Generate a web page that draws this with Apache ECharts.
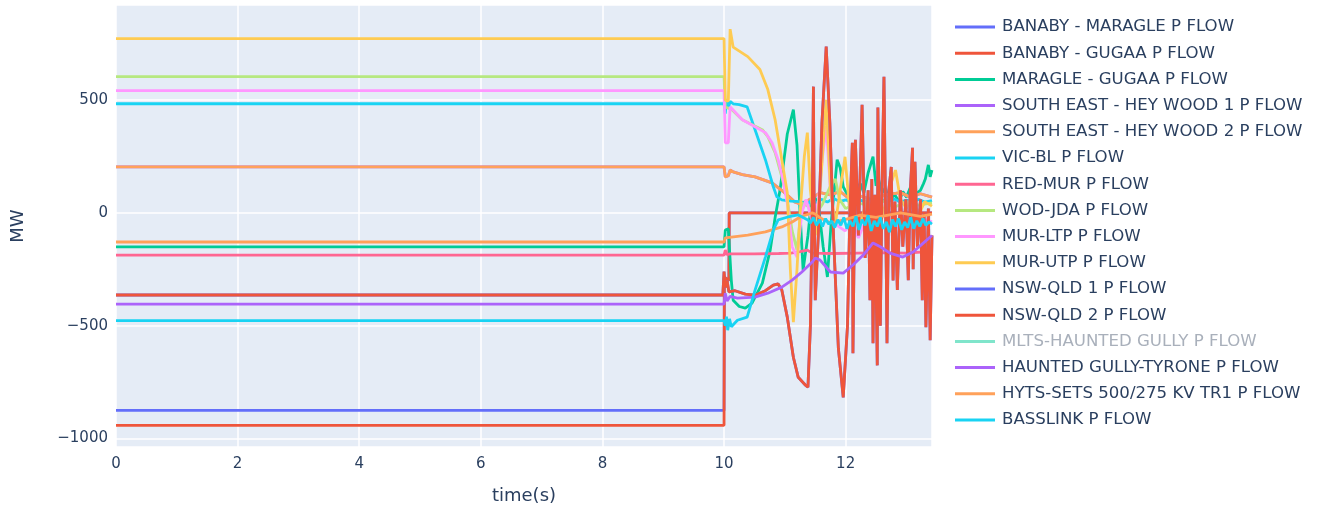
<!DOCTYPE html>
<html>
<head>
<meta charset="utf-8">
<script src="https://cdn.jsdelivr.net/npm/echarts@6/dist/echarts.min.js"></script>
<style>
  html, body { margin: 0; padding: 0; background: #ffffff; }
  #chart { width: 1322px; height: 511px; }
</style>
</head>
<body>
<div id="chart"></div>
<script>
// Active power flows [time (s), MW] for each monitored branch
const banabyMaragle = [[0,-876],[10,-876],[10.005,-285],[10.08,-300],[10.085,0],[13.42,0]];
const banabyGugaa = [[0,-942],[10,-942],[10.005,-285],[10.08,-300],[10.085,0],[13.42,0]];
const maragleGugaa = [[0,-151],[10,-151],[10.02,-76],[10.07,-71],[10.12,-300],[10.15,-387],[10.25,-415],[10.35,-422],[10.46,-400],[10.63,-311],[10.76,-164],[10.84,-20],[10.92,100],[11.04,350],[11.14,458],[11.2,300],[11.25,0],[11.3,-253],[11.38,-100],[11.45,90],[11.55,40],[11.63,-150],[11.7,-284],[11.76,-50],[11.86,236],[11.91,200],[11.96,116],[12.07,60],[12.16,100],[12.24,130],[12.3,90],[12.37,178],[12.45,249],[12.5,120],[12.53,160],[12.6,90],[12.65,110],[12.72,60],[12.81,80],[12.88,50],[12.94,95],[13.0,70],[13.06,110],[13.12,65],[13.18,90],[13.23,100],[13.28,130],[13.31,150],[13.36,213],[13.39,160],[13.42,190]];
// South East - Heywood circuits 1 and 2 run in parallel and carry the same flow
const southEastHeywood = [[0,204],[10,204],[10.02,160],[10.07,165],[10.1,190],[10.15,182],[10.3,170],[10.51,160],[10.79,133],[11.0,89],[11.16,49],[11.25,40],[11.38,55],[11.47,70],[11.58,90],[11.75,80],[11.91,95],[12.07,60],[12.24,75],[12.45,58],[12.65,80],[12.9,90],[13.06,70],[13.23,85],[13.42,70]];
const vicBl = [[0,484],[10,484],[10.02,440],[10.04,505],[10.07,465],[10.1,495],[10.15,484],[10.25,480],[10.38,470],[10.51,369],[10.68,236],[10.81,116],[10.87,71],[10.95,58],[11.1,52],[11.25,50],[11.38,40],[11.45,62],[11.52,45],[11.6,60],[11.7,48],[11.8,65],[11.9,50],[12.0,58],[12.1,45],[12.2,62],[12.3,50],[12.4,60],[12.5,46],[12.6,58],[12.7,50],[12.8,62],[12.9,48],[13.0,57],[13.1,50],[13.2,60],[13.3,48],[13.42,55]];
const redMur = [[0,-187],[10,-187],[10.02,-165],[10.05,-185],[10.1,-182],[10.5,-182],[10.9,-180],[11.1,-178],[11.25,-172],[11.37,-165],[11.45,-178],[11.8,-180],[12.2,-178],[12.6,-176],[13.0,-178],[13.42,-170]];
const wodJda = [[0,604],[10,604],[10.02,470],[10.13,458],[10.3,413],[10.63,369],[10.72,338],[10.84,267],[10.95,160],[11.04,58],[11.12,-80],[11.2,-164],[11.28,44],[11.38,30],[11.5,-10],[11.62,40],[11.75,120],[11.83,150],[11.9,60],[12.0,20],[12.2,45],[12.4,30],[12.6,55],[12.8,25],[13.0,50],[13.2,35],[13.42,45]];
const murLtp = [[0,542],[10,542],[10.02,311],[10.07,311],[10.1,471],[10.3,413],[10.51,382],[10.68,356],[10.79,311],[10.89,236],[10.97,147],[11.05,27],[11.12,-150],[11.2,-196],[11.28,0],[11.35,60],[11.45,-40],[11.55,50],[11.62,250],[11.68,385],[11.75,100],[11.83,-50],[11.99,-80],[12.1,-40],[12.21,-111],[12.3,-50],[12.4,-60],[12.5,-20],[12.6,-70],[12.7,-30],[12.8,-80],[12.9,-40],[13.0,-60],[13.1,-25],[13.2,-55],[13.3,-30],[13.42,-40]];
const murUtp = [[0,773],[10,773],[10.02,500],[10.07,495],[10.1,815],[10.15,735],[10.39,693],[10.59,636],[10.72,547],[10.84,413],[10.95,236],[11.04,89],[11.09,-250],[11.14,-484],[11.2,-250],[11.25,0],[11.32,250],[11.37,356],[11.42,100],[11.5,-100],[11.58,100],[11.68,502],[11.75,100],[11.83,-50],[11.92,120],[11.99,249],[12.07,0],[12.15,30],[12.25,-40],[12.35,60],[12.45,20],[12.55,80],[12.65,-20],[12.75,133],[12.82,190],[12.9,60],[13.0,20],[13.1,80],[13.2,-10],[13.3,50],[13.42,30]];
// NSW-QLD circuits 1 and 2 run in parallel and carry the same flow
const nswQld = [[0,-364],[9.98,-364],[10.0,-260],[10.02,-330],[10.05,-300],[10.08,-350],[10.18,-345],[10.35,-360],[10.51,-365],[10.68,-345],[10.81,-320],[10.89,-315],[10.95,-342],[11.04,-462],[11.14,-640],[11.22,-729],[11.34,-764],[11.38,-773],[11.42,-500],[11.45,0],[11.47,560],[11.48,100],[11.5,-387],[11.55,-100],[11.61,400],[11.68,738],[11.74,400],[11.8,-100],[11.88,-600],[11.96,-818],[12.03,-500],[12.07,0],[12.11,311],[12.12,-622],[12.16,324],[12.21,-100],[12.27,480],[12.32,-200],[12.37,100],[12.4,-387],[12.43,150],[12.45,-578],[12.48,80],[12.52,-676],[12.53,467],[12.57,-500],[12.6,150],[12.63,604],[12.67,-300],[12.68,-578],[12.71,100],[12.75,204],[12.78,-300],[12.81,50],[12.85,-342],[12.9,100],[12.94,-150],[12.99,60],[13.03,-298],[13.06,80],[13.1,289],[13.11,-250],[13.14,227],[13.18,-150],[13.23,60],[13.26,-387],[13.29,0],[13.32,-507],[13.36,20],[13.39,-564],[13.42,-100]];
// MLTS - Haunted Gully and Haunted Gully - Tyrone are in series on the same path
const hauntedGully = [[0,-404],[10,-404],[10.02,-356],[10.05,-390],[10.1,-370],[10.22,-378],[10.51,-373],[10.72,-356],[10.95,-329],[11.12,-298],[11.28,-262],[11.45,-218],[11.5,-200],[11.58,-209],[11.75,-262],[11.96,-267],[12.12,-231],[12.29,-187],[12.45,-133],[12.57,-150],[12.73,-178],[12.94,-196],[13.11,-173],[13.28,-133],[13.42,-100]];
const hytsSets = [[0,-129],[10,-129],[10.02,-111],[10.39,-98],[10.68,-84],[10.95,-62],[11.12,-40],[11.25,-18],[11.45,0],[11.5,-5],[11.6,-25],[11.75,-44],[11.99,-30],[12.24,-10],[12.5,-20],[12.9,0],[13.23,-15],[13.42,-5]];
const basslink = [[0,-478],[10,-478],[10.02,-500],[10.04,-460],[10.06,-520],[10.09,-470],[10.12,-505],[10.22,-476],[10.38,-462],[10.51,-342],[10.68,-196],[10.81,-76],[10.89,-31],[11.05,-18],[11.22,-9],[11.38,-31],[11.42,-45],[11.47,-20],[11.52,-55],[11.57,-30],[11.62,-60],[11.67,-25],[11.72,-50],[11.77,-35],[11.82,-65],[11.87,-30],[11.92,-55],[11.97,-20],[12.02,-70],[12.07,-35],[12.12,-60],[12.17,-15],[12.22,-75],[12.27,-30],[12.32,-55],[12.37,-10],[12.42,-80],[12.47,-35],[12.52,-60],[12.57,-20],[12.62,-70],[12.67,-40],[12.72,-85],[12.77,-30],[12.82,-60],[12.87,-25],[12.92,-75],[12.97,-40],[13.02,-65],[13.07,-20],[13.12,-70],[13.17,-35],[13.22,-60],[13.27,-25],[13.32,-55],[13.37,-40],[13.42,-50]];

const seriesNames = [
  'BANABY - MARAGLE P FLOW', 'BANABY - GUGAA P FLOW', 'MARAGLE - GUGAA P FLOW',
  'SOUTH EAST - HEY WOOD 1 P FLOW', 'SOUTH EAST - HEY WOOD 2 P FLOW', 'VIC-BL P FLOW',
  'RED-MUR P FLOW', 'WOD-JDA P FLOW', 'MUR-LTP P FLOW', 'MUR-UTP P FLOW',
  'NSW-QLD 1 P FLOW', 'NSW-QLD 2 P FLOW', 'MLTS-HAUNTED GULLY P FLOW',
  'HAUNTED GULLY-TYRONE P FLOW', 'HYTS-SETS 500/275 KV TR1 P FLOW', 'BASSLINK P FLOW'
];
const seriesData = [
  banabyMaragle, banabyGugaa, maragleGugaa, southEastHeywood, southEastHeywood, vicBl,
  redMur, wodJda, murLtp, murUtp, nswQld, nswQld, hauntedGully, hauntedGully, hytsSets, basslink
];
const palette = ['#636efa','#EF553B','#00cc96','#ab63fa','#FFA15A','#19d3f3','#FF6692','#B6E880','#FF97FF','#FECB52'];
const hiddenSeries = 'MLTS-HAUNTED GULLY P FLOW';

const xTicks = { min: 0, max: 13.42, interval: 2 };
const yRange = { min: -1038, max: 922 };

const FONT = 'DejaVu Sans';
const INK = '#2a3f5f';
const minus = v => String(v).replace('-', '\u2212');

const chart = echarts.init(document.getElementById('chart'), null, { renderer: 'canvas' });

const series = seriesNames.map((name, i) => ({
  name,
  type: 'line',
  data: seriesData[i],
  showSymbol: false,
  symbol: 'none',
  lineStyle: { width: 2.8, color: palette[i % palette.length] },
  itemStyle: { color: palette[i % palette.length] },
  emphasis: { disabled: true },
  animation: false
}));

chart.setOption({
  animation: false,
  backgroundColor: '#ffffff',
  color: palette,
  grid: {
    left: 116, right: 390, top: 5, bottom: 64,
    show: true, backgroundColor: '#E5ECF6', borderWidth: 0
  },
  legend: {
    orient: 'vertical',
    left: 955, top: 17,
    padding: 0,
    icon: 'rect',
    itemWidth: 40, itemHeight: 3,
    itemGap: 6.2,
    selectedMode: true,
    selected: { [hiddenSeries]: false },
    data: seriesNames.map(name => name === hiddenSeries
      ? { name, inactiveColor: '#80e5cb' }
      : { name }),
    formatter: name => name === hiddenSeries ? '{off|' + name + '}' : name,
    textStyle: {
      fontFamily: FONT, fontSize: 16.6, color: INK, lineHeight: 20,
      padding: [0, 0, 0, 2],
      rich: { off: { fontFamily: FONT, fontSize: 16.6, color: '#a9b0bb', lineHeight: 20 } }
    }
  },
  xAxis: {
    type: 'value',
    min: xTicks.min, max: xTicks.max, interval: xTicks.interval,
    name: 'time(s)', nameLocation: 'middle', nameGap: 40,
    nameTextStyle: { fontFamily: FONT, fontSize: 18, color: INK },
    axisLine: { show: false }, axisTick: { show: false },
    axisLabel: { fontFamily: FONT, fontSize: 15, color: INK, margin: 10, showMaxLabel: false, formatter: minus },
    splitLine: { show: true, lineStyle: { color: '#ffffff', width: 1.5 } }
  },
  yAxis: {
    type: 'value',
    min: yRange.min, max: yRange.max, splitNumber: 4,
    name: 'MW', nameLocation: 'middle', nameGap: 89,
    nameTextStyle: { fontFamily: FONT, fontSize: 18, color: INK },
    axisLine: { show: false }, axisTick: { show: false },
    axisLabel: { fontFamily: FONT, fontSize: 15, color: INK, margin: 8, showMinLabel: false, showMaxLabel: false, formatter: minus },
    splitLine: { show: true, lineStyle: { color: '#ffffff', width: 1.5 } }
  },
  series
});
</script>
</body>
</html>
